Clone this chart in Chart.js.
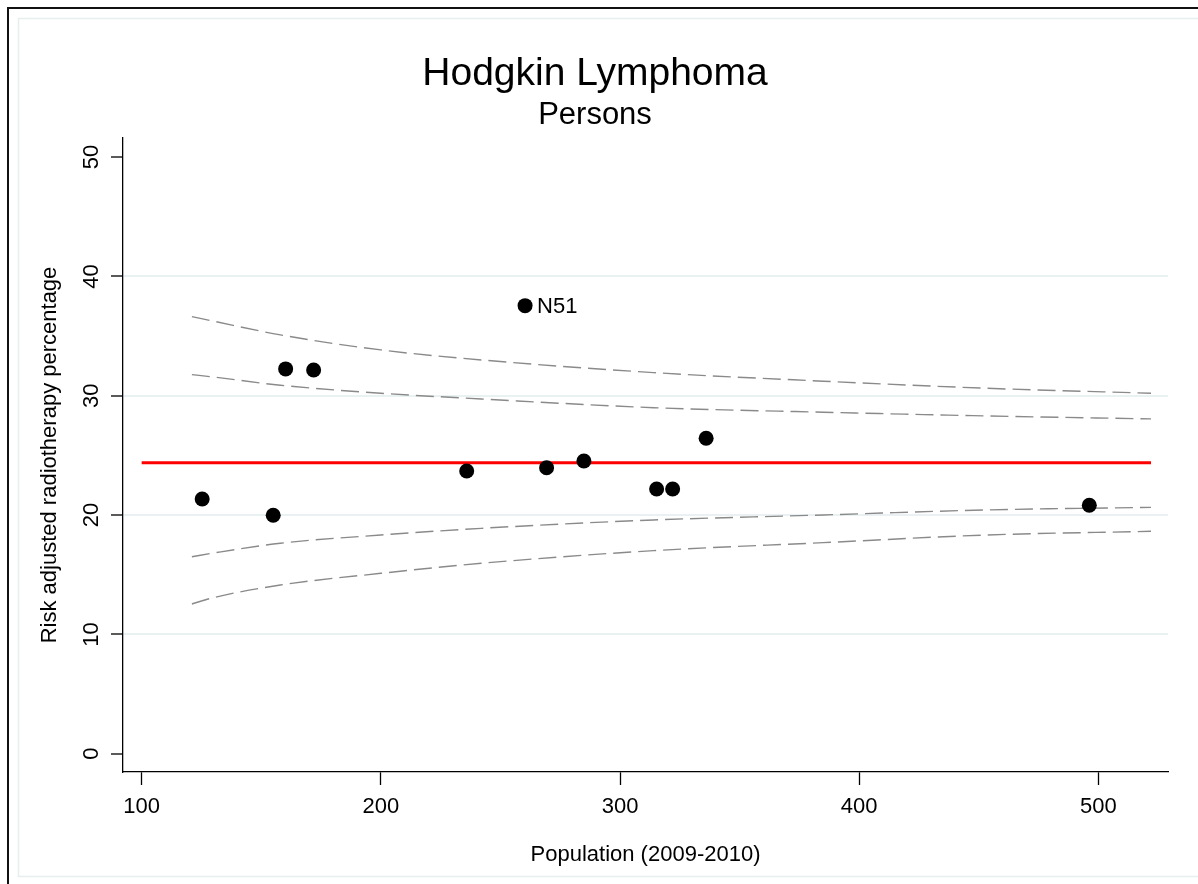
<!DOCTYPE html>
<html>
<head>
<meta charset="utf-8">
<script src="https://cdn.jsdelivr.net/npm/chart.js@4/dist/chart.umd.min.js"></script>
<style>
  html, body { margin: 0; padding: 0; background: #ffffff; }
  #wrap { width: 1198px; height: 884px; }
</style>
</head>
<body>
<div id="wrap"><canvas id="c" width="1198" height="884"></canvas></div>
<script>
// ---- Data ----
const chartTitle = 'Hodgkin Lymphoma';
const chartSubtitle = 'Persons';
const xAxisTitle = 'Population (2009-2010)';
const yAxisTitle = 'Risk adjusted radiotherapy percentage';

// Scatter points (one per provider)
const population  = [125.3, 155.0, 160.2, 171.9, 235.9, 260.3, 269.3, 284.9, 315.3, 322.0, 336.0, 496.2];
const riskAdjPct  = [21.35, 19.98, 32.25, 32.16, 23.70, 37.55, 23.97, 24.53, 22.19, 22.19, 26.44, 20.82];
const pointLabels = ['', '', '', '', '', 'N51', '', '', '', '', '', ''];

// Overall mean line
const meanX = [100, 522];
const meanValue = 24.39;

// Funnel control limits
const limitX   = [121, 130, 158, 200, 242, 314, 385, 453, 522];
const upper998 = [36.63, 36.25, 35.10, 33.84, 33.00, 31.94, 31.22, 30.63, 30.21];
const upper95  = [31.77, 31.57, 30.88, 30.21, 29.73, 29.00, 28.62, 28.31, 28.06];
const lower95  = [16.51, 16.82, 17.64, 18.33, 18.89, 19.59, 20.01, 20.43, 20.65];
const lower998 = [12.55, 13.08, 14.14, 15.12, 15.96, 17.02, 17.69, 18.33, 18.64];

// Axes
const xTickValues = [100, 200, 300, 400, 500];
const yTickValues = [0, 10, 20, 30, 40, 50];
const xRange = [92.2, 529.1];
const yRange = [-1.53, 51.6];

// ---- Build datasets ----
const toXY = (xs, ys) => xs.map((x, i) => ({ x: x, y: ys[i] }));
const FONT = '"Liberation Sans", Arial, Helvetica, sans-serif';

const limitStyle = {
  type: 'line',
  borderColor: '#8a8a8a',
  borderWidth: 1.4,
  borderDash: [18, 7],
  pointRadius: 0,
  fill: false,
  cubicInterpolationMode: 'monotone',
  order: 3
};

const frame = {
  id: 'frame',
  beforeDraw(chart) {
    const ctx = chart.ctx;
    ctx.save();
    ctx.fillStyle = '#ffffff';
    ctx.fillRect(0, 0, chart.width, chart.height);
    ctx.strokeStyle = '#e6eeef';
    ctx.lineWidth = 1.5;
    ctx.strokeRect(18.5, 18.5, 1200, 858);
    ctx.strokeStyle = '#111111';
    ctx.lineWidth = 2;
    ctx.strokeRect(8, 8, 1220, 900);
    ctx.restore();
  }
};

const pointLabelPlugin = {
  id: 'pointLabelPlugin',
  afterDatasetsDraw(chart) {
    const meta = chart.getDatasetMeta(0);
    const ctx = chart.ctx;
    ctx.save();
    ctx.font = '22px ' + FONT;
    ctx.fillStyle = '#000000';
    ctx.textAlign = 'left';
    ctx.textBaseline = 'middle';
    pointLabels.forEach((lab, i) => {
      if (!lab) return;
      const el = meta.data[i];
      ctx.fillText(lab, el.x + 12, el.y + 1);
    });
    ctx.restore();
  }
};

new Chart(document.getElementById('c'), {
  type: 'scatter',
  data: {
    datasets: [
      {
        label: 'Providers',
        data: toXY(population, riskAdjPct),
        backgroundColor: '#000000',
        borderColor: '#000000',
        borderWidth: 0,
        pointRadius: 7.5,
        pointHoverRadius: 7.5,
        order: 1
      },
      {
        type: 'line',
        label: 'Mean',
        data: meanX.map(x => ({ x: x, y: meanValue })),
        borderColor: '#ff0000',
        borderWidth: 3,
        pointRadius: 0,
        fill: false,
        order: 2
      },
      Object.assign({ label: 'Upper 99.8%', data: toXY(limitX, upper998) }, limitStyle),
      Object.assign({ label: 'Upper 95%', data: toXY(limitX, upper95) }, limitStyle),
      Object.assign({ label: 'Lower 95%', data: toXY(limitX, lower95) }, limitStyle),
      Object.assign({ label: 'Lower 99.8%', data: toXY(limitX, lower998) }, limitStyle)
    ]
  },
  options: {
    responsive: false,
    animation: false,
    layout: { padding: { left: 11, right: 19, top: 0, bottom: 0 } },
    plugins: {
      legend: { display: false },
      tooltip: { enabled: false },
      title: {
        display: true,
        text: chartTitle,
        color: '#000000',
        font: { family: FONT, size: 39, weight: 'normal', lineHeight: 1.2 },
        padding: { top: 51, bottom: 0 }
      },
      subtitle: {
        display: true,
        text: chartSubtitle,
        color: '#000000',
        font: { family: FONT, size: 31, weight: 'normal', lineHeight: 1.0 },
        padding: { top: 2, bottom: 7.2 }
      }
    },
    scales: {
      x: {
        type: 'linear',
        min: xRange[0],
        max: xRange[1],
        afterBuildTicks: (s) => { s.ticks = xTickValues.map(v => ({ value: v })); },
        afterFit: (s) => { s.height = 112; },
        grid: {
          display: true,
          drawOnChartArea: false,
          drawTicks: true,
          tickLength: 13,
          tickColor: '#000000',
          tickWidth: 1.3,
          color: 'rgba(0,0,0,0)'
        },
        border: { display: true, color: '#000000', width: 1.3 },
        ticks: {
          color: '#000000',
          padding: 9,
          maxRotation: 0,
          minRotation: 0,
          autoSkip: false,
          font: { family: FONT, size: 22 },
          callback: (v) => String(v)
        },
        title: {
          display: true,
          text: xAxisTitle,
          color: '#000000',
          font: { family: FONT, size: 22, lineHeight: 1.2 },
          padding: { top: 0, bottom: 16 }
        }
      },
      y: {
        type: 'linear',
        position: 'left',
        min: yRange[0],
        max: yRange[1],
        afterBuildTicks: (s) => { s.ticks = yTickValues.map(v => ({ value: v })); },
        afterFit: (s) => { s.width = 112; },
        grid: {
          display: true,
          drawTicks: true,
          tickLength: 12,
          tickColor: '#000000',
          tickWidth: 1.3,
          lineWidth: 2,
          color: (c) => (c.tick && (c.tick.value === 0 || c.tick.value === 50)) ? 'rgba(0,0,0,0)' : '#e9f1f2'
        },
        border: { display: true, color: '#000000', width: 1.3 },
        ticks: {
          color: '#000000',
          padding: 7,
          minRotation: 90,
          maxRotation: 90,
          crossAlign: 'center',
          autoSkip: false,
          font: { family: FONT, size: 22 },
          callback: (v) => String(v)
        },
        title: {
          display: true,
          text: yAxisTitle,
          color: '#000000',
          font: { family: FONT, size: 22, lineHeight: 1.2 },
          padding: { top: 26, bottom: 0 }
        }
      },
      yRight: {
        type: 'linear',
        position: 'right',
        display: true,
        min: yRange[0],
        max: yRange[1],
        afterFit: (s) => { s.width = 11; },
        grid: { display: false, drawTicks: false },
        border: { display: false },
        ticks: { display: false }
      }
    }
  },
  plugins: [frame, pointLabelPlugin]
});
</script>
</body>
</html>
